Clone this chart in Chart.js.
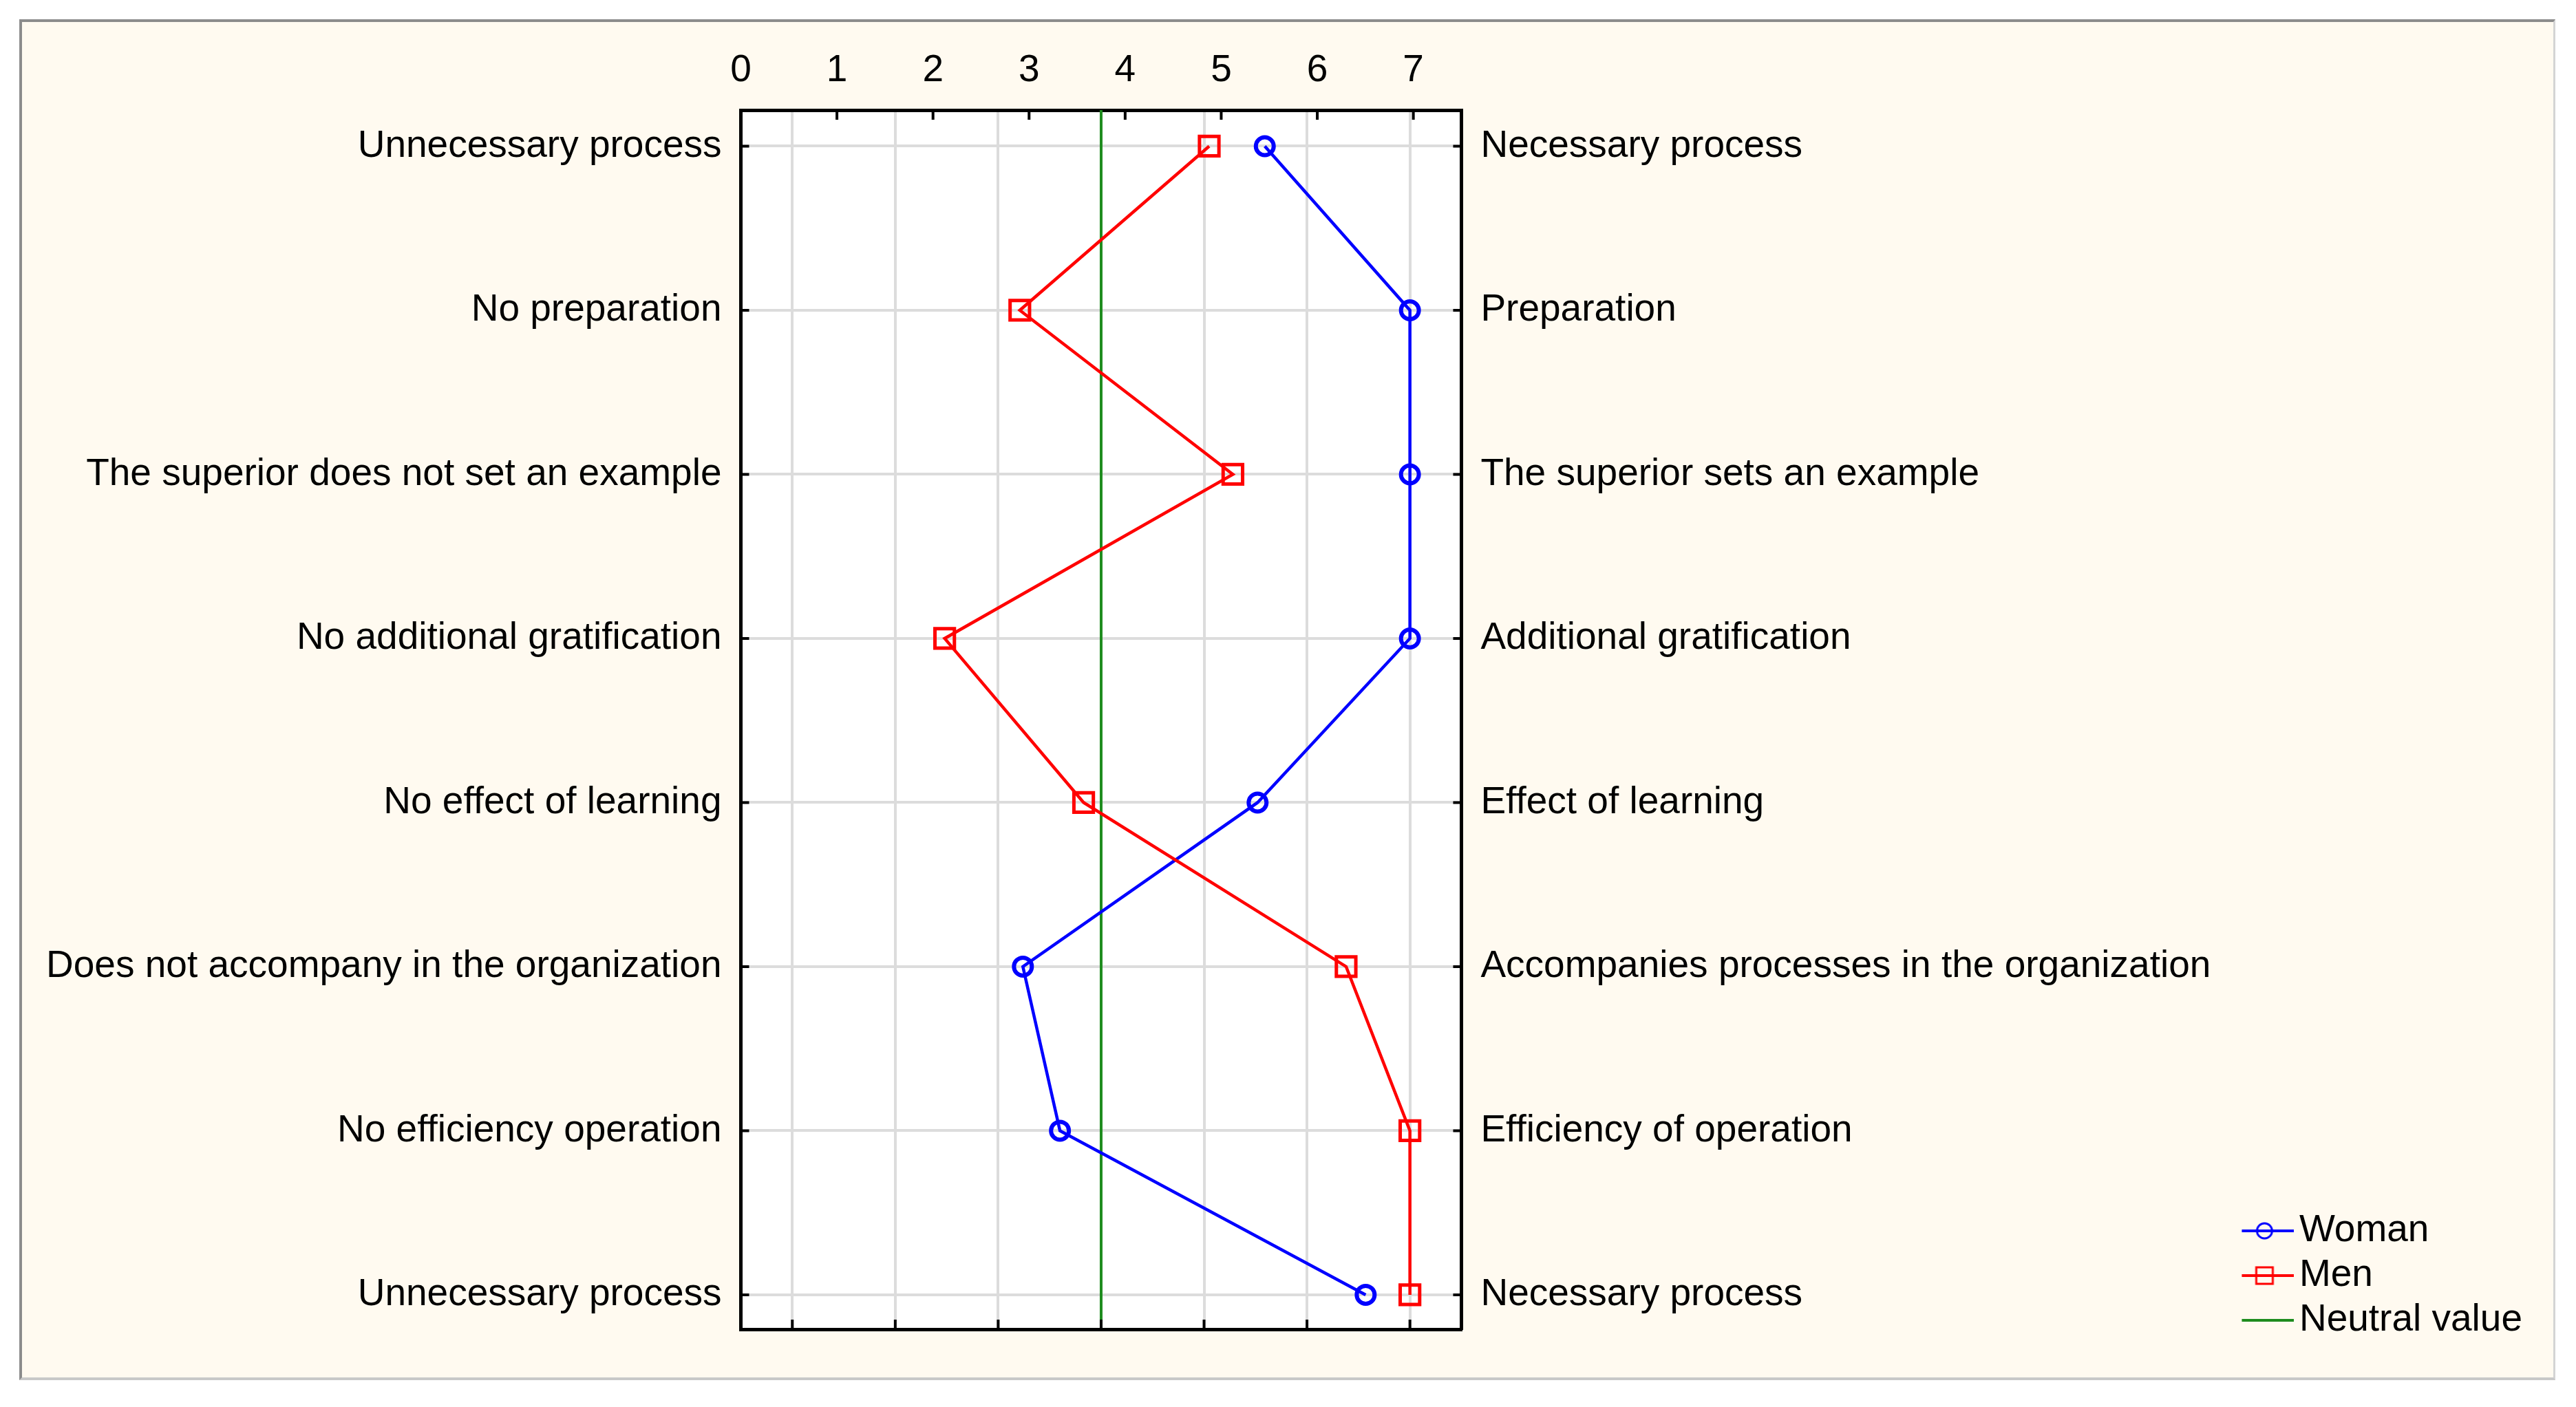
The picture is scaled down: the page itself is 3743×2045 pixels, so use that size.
<!DOCTYPE html>
<html>
<head>
<meta charset="utf-8">
<script src="https://cdn.jsdelivr.net/npm/chart.js@4"></script>
<style>
  html, body { margin: 0; background: #fff; width: 3743px; height: 2045px; overflow: hidden; }
  #frame {
    position: absolute; left: 28px; top: 28px;
    width: 3678px; height: 1970px;
    background: #fffaf0;
    border-top: 4px solid #8c8c8c; border-left: 4px solid #8c8c8c;
    border-right: 3px solid #d4d4d4; border-bottom: 4px solid #c8c8c8;
  }
  canvas { display: block; }
</style>
</head>
<body>
<div id="frame"><canvas id="chart" width="3678" height="1970"></canvas></div>
<script>
// left / right ends of each scale (top to bottom)
const leftLabels = [
  "Unnecessary process",
  "No preparation",
  "The superior does not set an example",
  "No additional gratification",
  "No effect of learning",
  "Does not accompany in the organization",
  "No efficiency operation",
  "Unnecessary process"
];
const rightLabels = [
  "Necessary process",
  "Preparation",
  "The superior sets an example",
  "Additional gratification",
  "Effect of learning",
  "Accompanies processes in the organization",
  "Efficiency of operation",
  "Necessary process"
];

// mean scores
const womanScores = [5.59, 7, 7, 7, 5.52, 3.24, 3.6, 6.57];
const menScores = [5.05, 3.21, 5.28, 2.48, 3.83, 6.38, 7, 7];
const neutralValue = 4;

// axis ticks
const topTicks = [0, 1, 2, 3, 4, 5, 6, 7];
const gridValues = [1, 2, 3, 4, 5, 6, 7];
const yMin = -0.22, yMax = 7.21;

const FONT = { family: "'Liberation Sans', Arial, sans-serif", size: 55 };

function makeIcon(color, marker) {
  const c = document.createElement('canvas');
  c.width = 86; c.height = 30;
  const g = c.getContext('2d');
  g.strokeStyle = color;
  g.lineWidth = 4;
  g.beginPath(); g.moveTo(0, 15); g.lineTo(86, 15); g.stroke();
  g.lineWidth = 3;
  if (marker === 'circle') {
    g.beginPath(); g.arc(43, 15, 11, 0, Math.PI * 2); g.stroke();
  } else if (marker === 'rect') {
    g.strokeRect(31, 3, 24, 24);
  }
  return c;
}
const legendIcons = [makeIcon('#0000ff', 'circle'), makeIcon('#ff0000', 'rect'), makeIcon('#1e8c1e', null)];

const plotBackground = {
  id: 'plotBackground',
  beforeDraw(chart) {
    const { ctx, chartArea: a } = chart;
    ctx.save();
    ctx.fillStyle = '#ffffff';
    ctx.fillRect(a.left, a.top, a.right - a.left, a.bottom - a.top);
    ctx.restore();
  }
};

// tick marks point into the plot on all four sides
const innerTicks = {
  id: 'innerTicks',
  afterDraw(chart) {
    const { ctx, chartArea: a, scales } = chart;
    ctx.save();
    ctx.strokeStyle = '#000';
    ctx.lineWidth = 4;
    ctx.beginPath();
    gridValues.forEach(v => {
      const px = scales.x.getPixelForValue(v);
      ctx.moveTo(px, a.bottom); ctx.lineTo(px, a.bottom - 14);
    });
    topTicks.forEach(v => {
      const px = scales.x2.getPixelForValue(v);
      ctx.moveTo(px, a.top); ctx.lineTo(px, a.top + 14);
    });
    leftLabels.forEach((_, i) => {
      const py = scales.y.getPixelForValue(i);
      ctx.moveTo(a.left, py); ctx.lineTo(a.left + 12, py);
      ctx.moveTo(a.right, py); ctx.lineTo(a.right - 12, py);
    });
    ctx.stroke();
    ctx.restore();
  }
};

const rowTicks = s => { s.ticks = leftLabels.map((_, i) => ({ value: i })); };

new Chart(document.getElementById('chart'), {
  type: 'scatter',
  data: {
    datasets: [
      {
        label: 'Woman',
        data: womanScores.map((v, i) => ({ x: v, y: i })),
        showLine: true,
        borderColor: '#0000ff',
        borderWidth: 4.5,
        pointStyle: 'circle',
        pointRadius: 13,
        pointBorderWidth: 6,
        pointBorderColor: '#0000ff',
        pointBackgroundColor: 'transparent',
        order: 2
      },
      {
        label: 'Men',
        data: menScores.map((v, i) => ({ x: v, y: i })),
        showLine: true,
        borderColor: '#ff0000',
        borderWidth: 4.5,
        pointStyle: 'rect',
        pointRadius: 20,
        pointBorderWidth: 5,
        pointBorderColor: '#ff0000',
        pointBackgroundColor: 'transparent',
        order: 1
      },
      {
        label: 'Neutral value',
        data: [{ x: neutralValue, y: yMin }, { x: neutralValue, y: yMax }],
        showLine: true,
        borderColor: '#1e8c1e',
        borderWidth: 4,
        pointRadius: 0,
        order: 3
      }
    ]
  },
  options: {
    responsive: false,
    devicePixelRatio: 1,
    animation: false,
    layout: { autoPadding: false, padding: { left: 0, top: 0, right: 35, bottom: 45.5 } },
    scales: {
      x: {
        type: 'linear', position: 'bottom', min: 0.5, max: 7.5,
        afterBuildTicks: s => { s.ticks = gridValues.map(v => ({ value: v })); },
        afterFit: s => { s.height = 24.5; },
        ticks: { display: false },
        grid: { color: '#dcdcdc', lineWidth: 4, drawTicks: false },
        border: { color: '#000', width: 5 }
      },
      x2: {
        type: 'linear', position: 'top', min: 0, max: 7.5,
        afterBuildTicks: s => { s.ticks = topTicks.map(v => ({ value: v })); },
        afterFit: s => { s.height = 128; },
        ticks: { color: '#000', font: FONT, padding: 24, maxRotation: 0, autoSkip: false },
        grid: { drawOnChartArea: false, drawTicks: false },
        border: { color: '#000', width: 5 }
      },
      y: {
        type: 'linear', position: 'left', reverse: true, min: yMin, max: yMax,
        afterBuildTicks: rowTicks,
        afterFit: s => { s.width = 1044.5; },
        ticks: { color: '#000', font: FONT, padding: 28, autoSkip: false, callback: v => leftLabels[v] },
        grid: { color: '#dcdcdc', lineWidth: 4, drawTicks: false },
        border: { color: '#000', width: 5 }
      },
      y2: {
        type: 'linear', position: 'right', reverse: true, min: yMin, max: yMax,
        afterBuildTicks: rowTicks,
        afterFit: s => { s.width = 1134; },
        ticks: { color: '#000', font: FONT, padding: 28, autoSkip: false, callback: v => rightLabels[v] },
        grid: { drawOnChartArea: false, drawTicks: false },
        border: { color: '#000', width: 5 }
      }
    },
    plugins: {
      tooltip: { enabled: false },
      legend: {
        position: 'right',
        align: 'end',
        labels: {
          usePointStyle: true,
          pointStyleWidth: 46,
          padding: 10,
          color: '#000',
          font: FONT,
          generateLabels: chart => chart.data.datasets.map((ds, i) => ({
            text: ds.label,
            pointStyle: legendIcons[i],
            datasetIndex: i,
            hidden: false,
            lineWidth: 0,
            fillStyle: 'transparent',
            strokeStyle: 'transparent',
            fontColor: '#000'
          }))
        }
      }
    }
  },
  plugins: [plotBackground, innerTicks]
});
</script>
</body>
</html>
